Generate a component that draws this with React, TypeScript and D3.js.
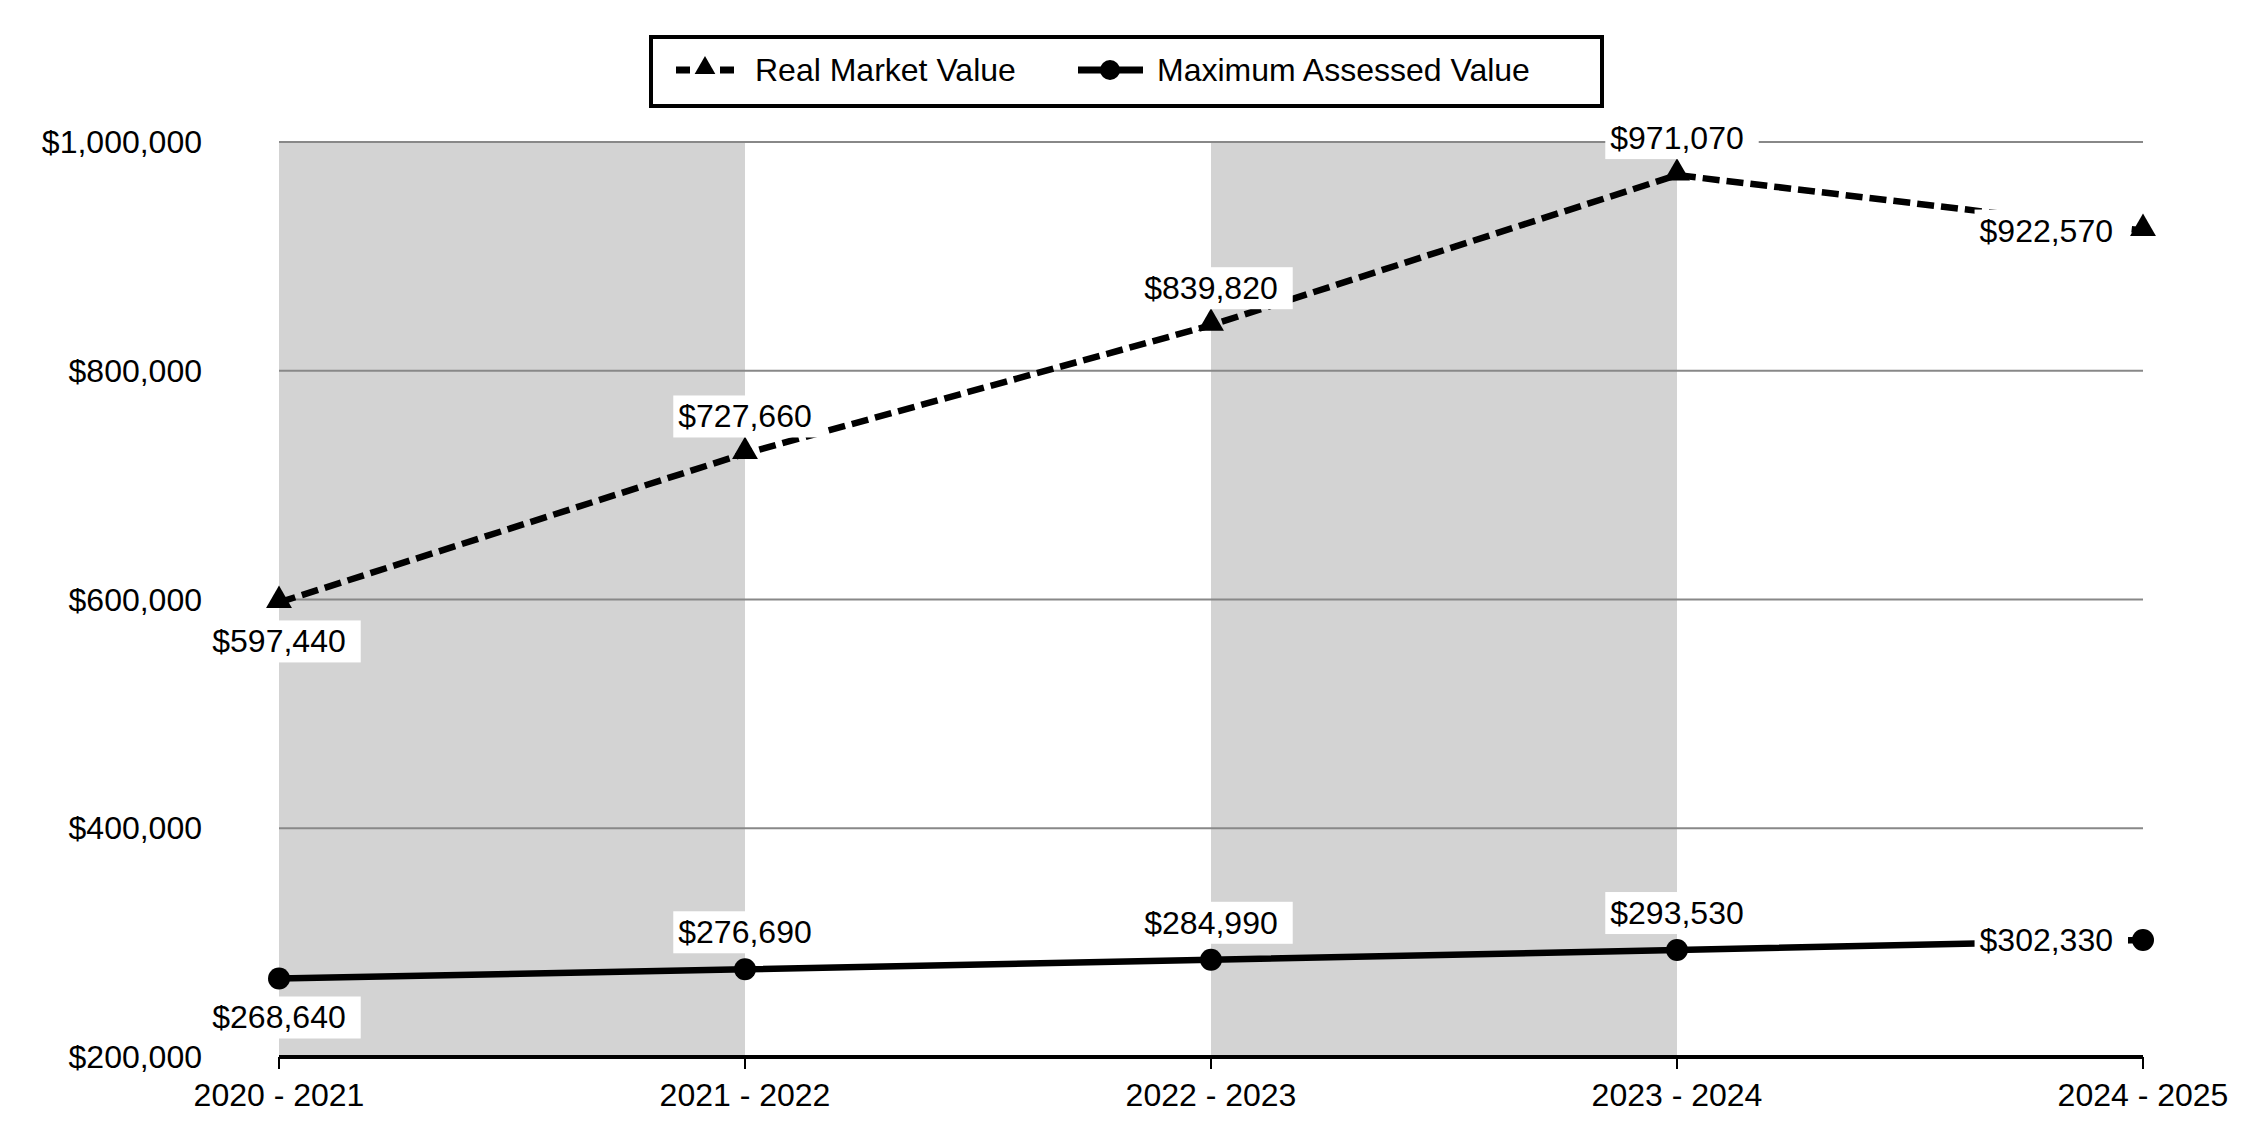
import * as d3 from "d3";

const years = ["2020 - 2021", "2021 - 2022", "2022 - 2023", "2023 - 2024", "2024 - 2025"];
const realMarket = [597440, 727660, 839820, 971070, 922570];
const maxAssessed = [268640, 276690, 284990, 293530, 302330];
const yTicks = [200000, 400000, 600000, 800000, 1000000];
// where each data label sits relative to its point
const rmvLabelPos = ["below", "above", "above", "above", "left"];
const mavLabelPos = ["below", "above", "above", "above", "left"];

const FONT = "'Liberation Sans', Arial, sans-serif";
const FS = 32;

const money = (v: number) => "$" + d3.format(",")(v);

// rough Arial widths so the white label boxes fit the text
const textWidth = (s: string) =>
  s.split("").reduce((a, c) => a + (c === "," ? 0.278 : 0.556), 0) * FS;

export default function App() {
  const width = 2250;
  const height = 1140;
  const left = 279;
  const right = 2143;
  const top = 142;
  const bottom = 1057;

  const x = d3.scalePoint<string>().domain(years).range([left, right]);
  const y = d3.scaleLinear().domain([200000, 1000000]).range([bottom, top]);

  const line = d3
    .line<number>()
    .x((_, i) => x(years[i]) as number)
    .y((d) => y(d));

  const tri = d3.symbol().type(d3.symbolTriangle).size(290)();

  const label = (v: number, i: number, pos: string, key: string) => {
    const px = x(years[i]) as number;
    const py = y(v);
    const t = money(v);
    const w = textWidth(t);
    let cx = px;
    let cy = py;
    let anchor: "middle" | "end" = "middle";
    if (pos === "below") cy = py + 39;
    else if (pos === "above") cy = py - 37;
    else {
      cx = px - 30;
      anchor = "end";
    }
    const tl = anchor === "middle" ? cx - w / 2 : cx - w;
    return (
      <g key={key}>
        <rect x={tl - 5} y={cy - 21} width={w + 20} height={42} fill="white" />
        <text
          x={cx}
          y={cy}
          textAnchor={anchor}
          dominantBaseline="central"
          fontSize={FS}
          fontFamily={FONT}
          fill="#000"
        >
          {t}
        </text>
      </g>
    );
  };

  return (
    <svg
      width={width}
      height={height}
      style={{ position: "absolute", left: 0, top: 0, background: "white" }}
    >
      <rect width={width} height={height} fill="white" />

      {/* shaded bands */}
      {[0, 2].map((i) => (
        <rect
          key={i}
          x={x(years[i])}
          y={top}
          width={(x(years[i + 1]) as number) - (x(years[i]) as number)}
          height={bottom - top}
          fill="#d3d3d3"
        />
      ))}

      {/* gridlines + y labels */}
      {yTicks.map((t) => (
        <g key={t}>
          {t !== 200000 && (
            <line x1={left} x2={right} y1={y(t)} y2={y(t)} stroke="#888" strokeWidth={2} />
          )}
          <text
            x={202}
            y={y(t)}
            textAnchor="end"
            dominantBaseline="central"
            fontSize={FS}
            fontFamily={FONT}
          >
            {money(t)}
          </text>
        </g>
      ))}

      {/* x axis */}
      <line x1={left} x2={right} y1={bottom} y2={bottom} stroke="#000" strokeWidth={4} />
      {years.map((c) => (
        <g key={c}>
          <line x1={x(c)} x2={x(c)} y1={bottom} y2={bottom + 12} stroke="#000" strokeWidth={2} />
          <text
            x={x(c)}
            y={bottom + 38}
            textAnchor="middle"
            dominantBaseline="central"
            fontSize={FS}
            fontFamily={FONT}
          >
            {c}
          </text>
        </g>
      ))}

      {/* series */}
      <path
        d={line(realMarket) ?? ""}
        fill="none"
        stroke="#000"
        strokeWidth={6.5}
        strokeDasharray="17,7"
      />
      <path d={line(maxAssessed) ?? ""} fill="none" stroke="#000" strokeWidth={6.5} />

      {realMarket.map((v, i) => (
        <path key={"t" + i} d={tri ?? ""} transform={`translate(${x(years[i])},${y(v) - 2})`} fill="#000" />
      ))}
      {maxAssessed.map((v, i) => (
        <circle key={"c" + i} cx={x(years[i])} cy={y(v)} r={11} fill="#000" />
      ))}

      {realMarket.map((v, i) => label(v, i, rmvLabelPos[i], "rl" + i))}
      {maxAssessed.map((v, i) => label(v, i, mavLabelPos[i], "ml" + i))}

      {/* legend */}
      <rect x={651} y={37} width={951} height={69} fill="white" stroke="#000" strokeWidth={4} />
      <line x1={676} x2={734} y1={70} y2={70} stroke="#000" strokeWidth={7} strokeDasharray="14,30" />
      <path d={tri ?? ""} transform="translate(705,68) scale(0.8)" fill="#000" />
      <text x={755} y={70} dominantBaseline="central" fontSize={FS} fontFamily={FONT}>
        Real Market Value
      </text>
      <line x1={1078} x2={1143} y1={70} y2={70} stroke="#000" strokeWidth={7} />
      <circle cx={1110} cy={70} r={10} fill="#000" />
      <text x={1157} y={70} dominantBaseline="central" fontSize={FS} fontFamily={FONT}>
        Maximum Assessed Value
      </text>
    </svg>
  );
}
